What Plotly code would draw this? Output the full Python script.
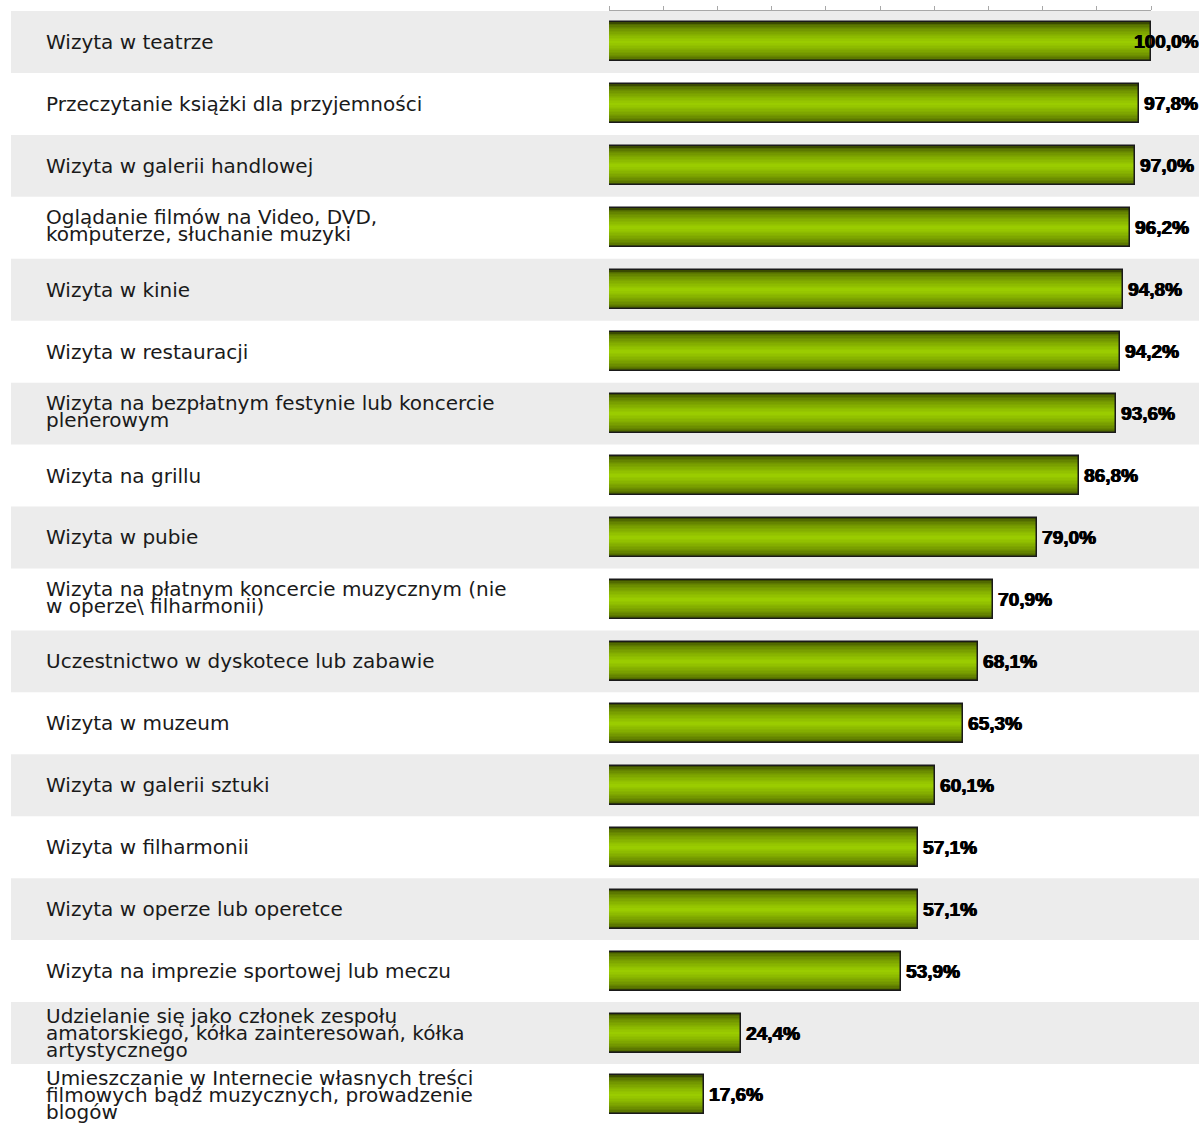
import plotly.graph_objects as go

categories = [
    "Wizyta w teatrze",
    "Przeczytanie książki dla przyjemności",
    "Wizyta w galerii handlowej",
    "Oglądanie filmów na Video, DVD,<br>komputerze, słuchanie muzyki",
    "Wizyta w kinie",
    "Wizyta w restauracji",
    "Wizyta na bezpłatnym festynie lub koncercie<br>plenerowym",
    "Wizyta na grillu",
    "Wizyta w pubie",
    "Wizyta na płatnym koncercie muzycznym (nie<br>w operze\\ filharmonii)",
    "Uczestnictwo w dyskotece lub zabawie",
    "Wizyta w muzeum",
    "Wizyta w galerii sztuki",
    "Wizyta w filharmonii",
    "Wizyta w operze lub operetce",
    "Wizyta na imprezie sportowej lub meczu",
    "Udzielanie się jako członek zespołu<br>amatorskiego, kółka zainteresowań, kółka<br>artystycznego",
    "Umieszczanie w Internecie własnych treści<br>filmowych bądź muzycznych, prowadzenie<br>blogów",
]
values = [100.0, 97.8, 97.0, 96.2, 94.8, 94.2, 93.6, 86.8, 79.0, 70.9,
          68.1, 65.3, 60.1, 57.1, 57.1, 53.9, 24.4, 17.6]
value_labels = [f"{v:.1f}".replace(".", ",") + "%" for v in values]
x_ticks = [0, 10, 20, 30, 40, 50, 60, 70, 80, 90, 100]

W, H = 1199, 1131
X0, X1 = 609, 1151          # pixel positions of 0 and 100
TOP, ROW = 11, 61.94
n = len(categories)
ypos = list(range(n))

fig = go.Figure()

# gradient simulated by stacked bars of decreasing thickness
BAR_W = 0.63
dark = (0x3a, 0x4a, 0x00)
bright = (0x9a, 0xcc, 0x00)
N_LAYERS = 14
for k in range(N_LAYERS):
    s = 1.0 - k / N_LAYERS
    t = (k / (N_LAYERS - 1)) ** 0.55
    col = "rgb(%d,%d,%d)" % tuple(round(d + (b - d) * t) for d, b in zip(dark, bright))
    fig.add_trace(go.Bar(
        x=values, y=ypos, orientation="h", width=BAR_W * s,
        marker=dict(color=col, line=dict(width=0)),
        hoverinfo="skip", showlegend=False,
    ))
# outline
fig.add_trace(go.Bar(
    x=values, y=ypos, orientation="h", width=BAR_W,
    marker=dict(color="rgba(0,0,0,0)", line=dict(color="#1a1a1a", width=1.5)),
    hovertemplate="%{x:.1f}%<extra></extra>", showlegend=False,
))

shapes = []
for i in range(0, n, 2):
    shapes.append(dict(type="rect", xref="paper", yref="y",
                       x0=11 / W, x1=1, y0=i - 0.5, y1=i + 0.5,
                       fillcolor="#ececec", line=dict(width=0), layer="below"))

annotations = []
LINE = 17
for i, cat in enumerate(categories):
    lines = cat.split("<br>")
    k = len(lines)
    extra = 2 if k == 2 else 0
    for j, ln in enumerate(lines):
        annotations.append(dict(
            xref="paper", yref="y", x=44 / W, y=i, xanchor="left", yanchor="middle",
            text=ln, showarrow=False, yshift=((k - 1) / 2 - j) * LINE + extra,
            font=dict(family="DejaVu Sans", size=20, color="#1a1a1a"),
        ))

for i, (v, t) in enumerate(zip(values, value_labels)):
    px_end = X0 + v / 100 * (X1 - X0)
    est_w = 10.5 * len(t)
    lbl_font = dict(family="Liberation Sans", size=19, color="#000000",
                    weight="bold", shadow="0.7px 0 0 #000, -0.4px 0 0 #000")
    if px_end + 5 + est_w > W:
        annotations.append(dict(xref="paper", yref="y", x=1, y=i, xanchor="right",
                                yanchor="middle", text=t, showarrow=False,
                                font=lbl_font, xshift=2))
    else:
        annotations.append(dict(xref="x", yref="y", x=v, y=i, xanchor="left",
                                yanchor="middle", text=t, showarrow=False,
                                font=lbl_font, xshift=3))

fig.update_layout(
    width=W, height=H,
    margin=dict(l=0, r=0, t=0, b=0),
    paper_bgcolor="white", plot_bgcolor="rgba(0,0,0,0)",
    barmode="overlay",
    bargap=0,
    shapes=shapes, annotations=annotations,
    xaxis=dict(domain=[X0 / W, X1 / W], range=[0, 100], side="top",
               tickvals=x_ticks, showticklabels=False, ticks="outside",
               ticklen=4, tickcolor="#a8a8a8", showline=True, linecolor="#a8a8a8",
               linewidth=1, showgrid=False, zeroline=False, fixedrange=True),
    yaxis=dict(domain=[1 - (TOP + n * ROW) / H, 1 - TOP / H],
               range=[n - 0.5, -0.5], visible=False, fixedrange=True),
)

fig.write_html(
    "out.html",
    config={"displayModeBar": False},
    post_script="document.body.style.margin='0';document.body.style.overflow='hidden';",
)
